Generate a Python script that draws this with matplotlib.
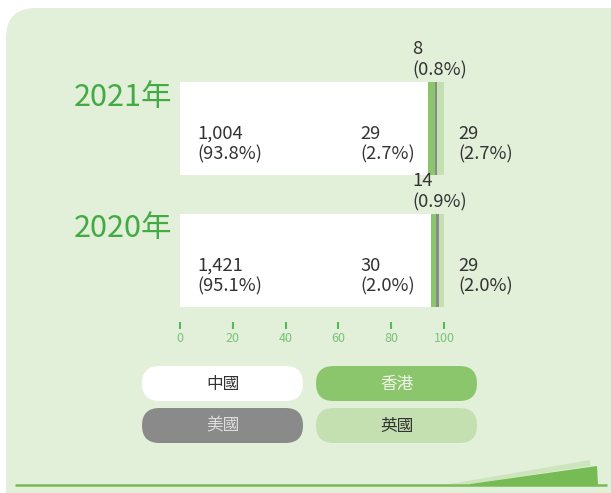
import matplotlib
matplotlib.use("Agg")
import matplotlib.pyplot as plt
from matplotlib.patches import FancyBboxPatch, Polygon
import numpy as np

plt.rcParams['font.family'] = ['Noto Sans CJK TC', 'DejaVu Sans']
plt.rcParams['font.weight'] = 'light'

# data
years = ['2021年', '2020年']
regions = ['中國', '香港', '美國', '英國']
counts = [[1004, 29, 8, 29],
          [1421, 30, 14, 29]]
pcts = [[93.8, 2.7, 0.8, 2.7],
        [95.1, 2.0, 0.9, 2.0]]
xticks = [0, 20, 40, 60, 80, 100]

colors = ['#ffffff', '#8cc66c', '#8a8a8a', '#c5e0b0']
bg = '#e2efd9'
green_txt = '#44aa44'

fig = plt.figure(figsize=(6.11, 4.93), dpi=100)

# background panel in pixel coords
bgax = fig.add_axes([0, 0, 1, 1], zorder=0)
bgax.set_xlim(0, 611)
bgax.set_ylim(493, 0)
bgax.axis('off')
panel = FancyBboxPatch((6, 8), 640, 520, boxstyle='round,pad=0,rounding_size=30',
                       fc=bg, ec='none')
bgax.add_patch(panel)
bgax.plot([15, 607], [485, 485], color='#77bb55', lw=1.8, solid_capstyle='butt')
bgax.add_patch(Polygon([[450, 484], [590, 460], [590, 466], [470, 484]], closed=True,
                       fc='#cde5bd', ec='none'))
bgax.add_patch(Polygon([[470, 484], [597, 466], [598, 485], [470, 485]], closed=True,
                       fc='#77bb55', ec='none'))

# legend pills
pills = [(142, 366), (316, 366), (142, 408), (316, 408)]
txtcol = ['#333333', '#eef5e8', '#dddddd', '#333333']
for (px, py), name, c, tc in zip(pills, regions, colors, txtcol):
    bgax.add_patch(FancyBboxPatch((px, py), 161, 35, boxstyle='round,pad=0,rounding_size=17.5',
                                  fc=c, ec='none'))
    bgax.text(px + 80.5, py + 18, name, ha='center', va='center', fontsize=12, color=tc)

# main chart
ax = fig.add_axes([180/611, 1 - 307/493, 264/611, 225/493], zorder=1)
ax.patch.set_alpha(0)
ax.set_xlim(0, 100)
ax.set_ylim(-0.3535, 1.3535)
ypos = [1, 0]
h = 0.707

for yi, y in enumerate(ypos):
    left = 0
    for k in range(4):
        w = pcts[yi][k]
        ax.barh(y, w, left=left, height=h, color=colors[k], edgecolor='none')
        left += w
    # labels
    lab = [f'{counts[yi][k]:,}\n({pcts[yi][k]:.1f}%)' for k in range(4)]
    ly = y - 0.12
    ax.text(6.4, ly, lab[0], ha='left', va='center', fontsize=13.2, color='#333333')
    ax.text(68.2, ly, lab[1], ha='left', va='center', fontsize=13.2, color='#333333')
    ax.text(88.0, y + h / 2 + 0.02, lab[2], ha='left', va='bottom', fontsize=13.2, color='#333333')
    ax.text(105.3, ly, lab[3], ha='left', va='center', fontsize=13.2, color='#333333')
    ax.text(-3, y + h / 2 - 0.115, years[yi], ha='right', va='center', fontsize=22,
            color=green_txt)

for s in ['top', 'right', 'left']:
    ax.spines[s].set_visible(False)
ax.spines['bottom'].set_position(('outward', 11))
ax.spines['bottom'].set_visible(False)
ax.set_yticks([])
ax.set_xticks(xticks)
ax.tick_params(axis='x', length=5, width=1.5, color='#55bb55', labelcolor='#77c477',
               labelsize=9, pad=2)

fig.savefig('out.png', dpi=100)
